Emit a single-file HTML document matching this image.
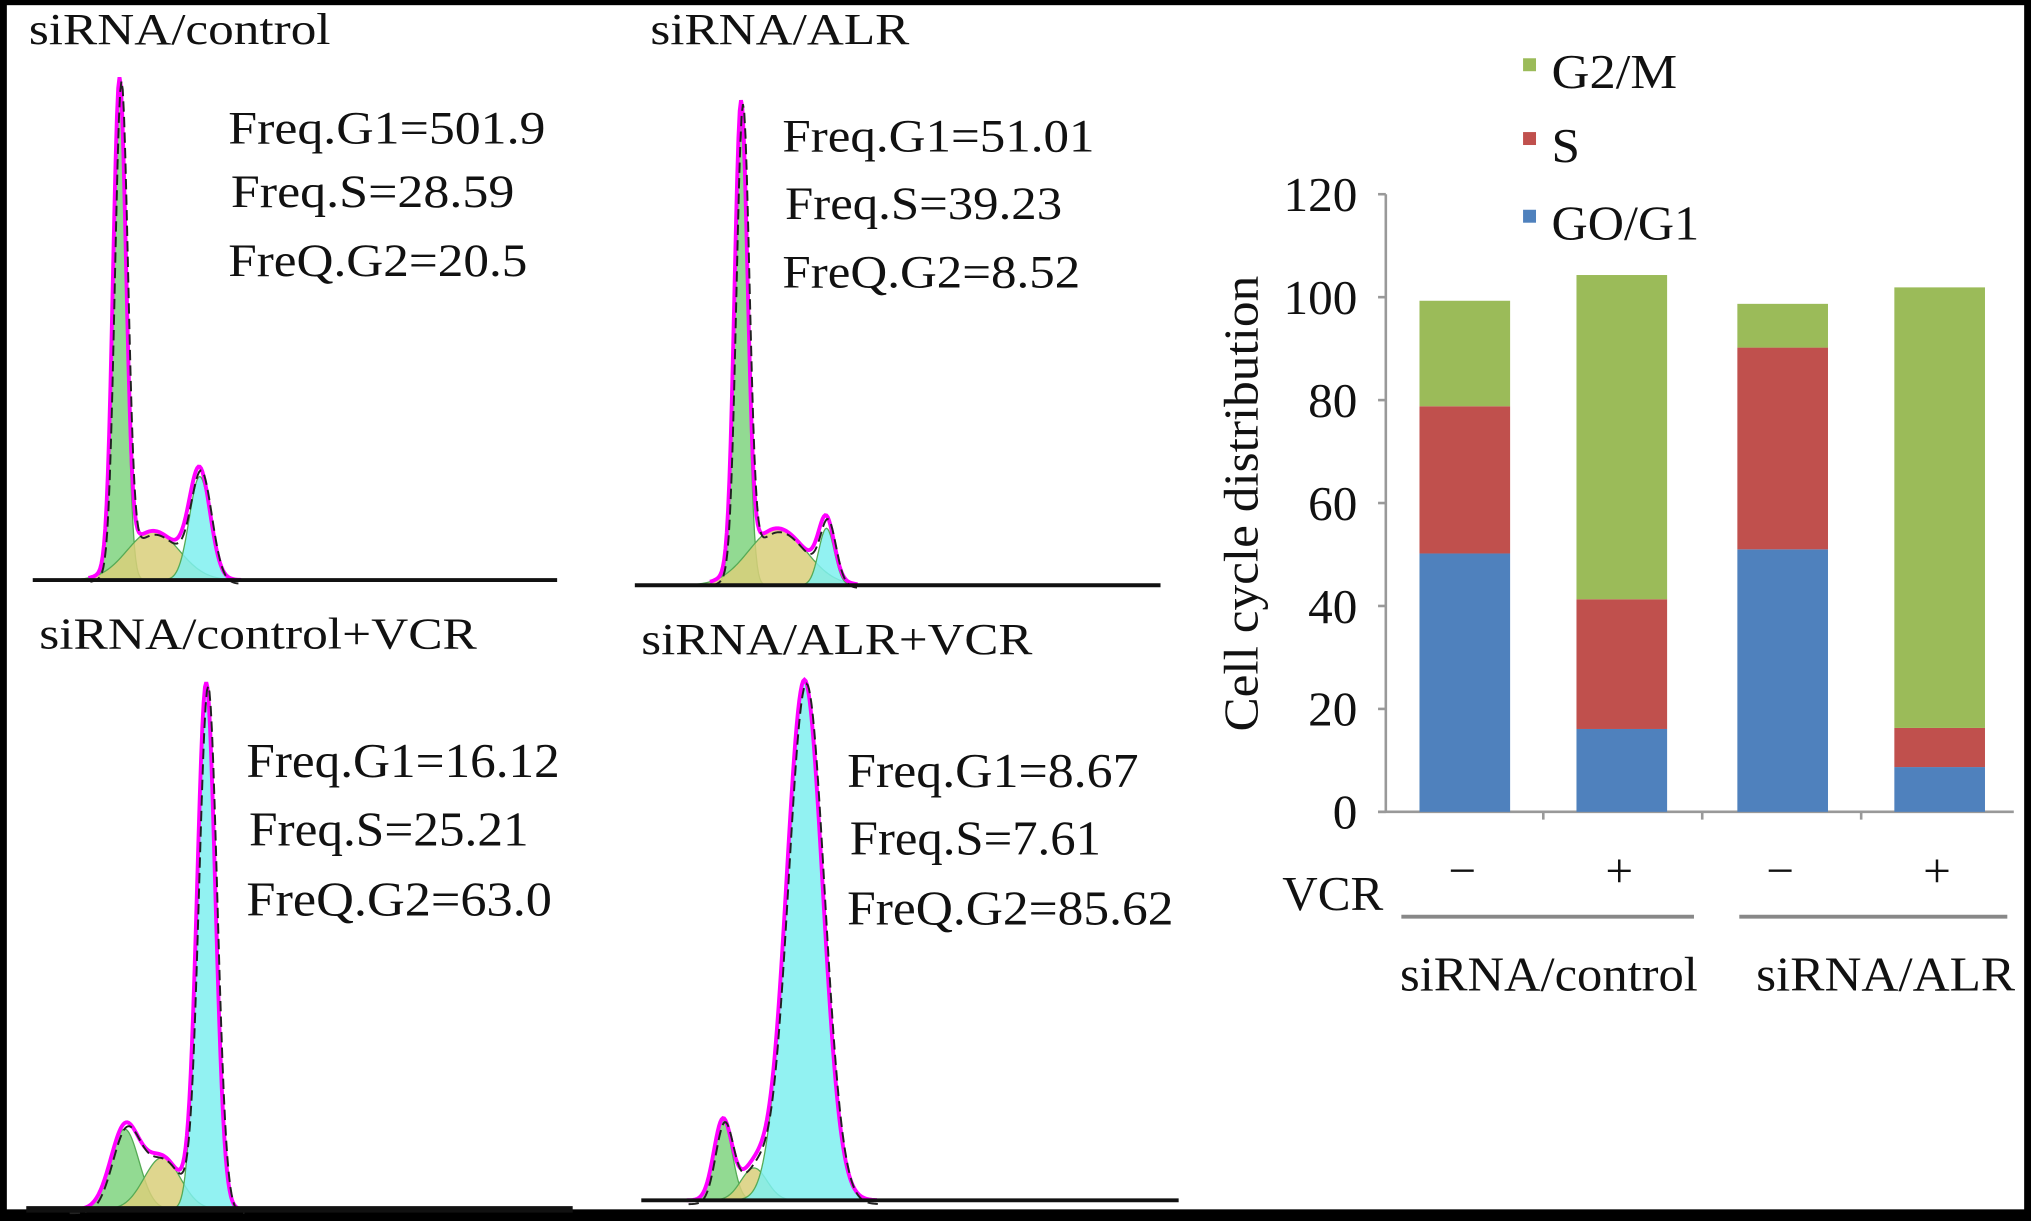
<!DOCTYPE html>
<html><head><meta charset="utf-8"><style>
html,body{margin:0;padding:0;background:#000;}
svg{display:block;}
text{font-family:"Liberation Serif","Times New Roman",serif;fill:#111;}
</style></head><body>
<svg id="fig" width="2031" height="1221" viewBox="0 0 1568 943" xmlns="http://www.w3.org/2000/svg">
<rect x="0" y="0" width="1568" height="943" fill="#000"/>
<rect x="5" y="4" width="1558" height="930" fill="#fff"/>
<g id="hists"></g>
<text x="22" y="34" font-size="34" textLength="233" lengthAdjust="spacingAndGlyphs">siRNA/control</text>
<text x="176" y="111" font-size="36" textLength="245" lengthAdjust="spacingAndGlyphs">Freq.G1=501.9</text>
<text x="178" y="160" font-size="36" textLength="219" lengthAdjust="spacingAndGlyphs">Freq.S=28.59</text>
<text x="176" y="213" font-size="36" textLength="231" lengthAdjust="spacingAndGlyphs">FreQ.G2=20.5</text>
<text x="502" y="34" font-size="34" textLength="200" lengthAdjust="spacingAndGlyphs">siRNA/ALR</text>
<text x="604" y="117" font-size="36" textLength="241" lengthAdjust="spacingAndGlyphs">Freq.G1=51.01</text>
<text x="606" y="169" font-size="36" textLength="214" lengthAdjust="spacingAndGlyphs">Freq.S=39.23</text>
<text x="604" y="222" font-size="36" textLength="230" lengthAdjust="spacingAndGlyphs">FreQ.G2=8.52</text>
<text x="30" y="501" font-size="34" textLength="338" lengthAdjust="spacingAndGlyphs">siRNA/control+VCR</text>
<text x="190" y="600" font-size="38" textLength="242" lengthAdjust="spacingAndGlyphs">Freq.G1=16.12</text>
<text x="192" y="653" font-size="38" textLength="216" lengthAdjust="spacingAndGlyphs">Freq.S=25.21</text>
<text x="190" y="707" font-size="38" textLength="236" lengthAdjust="spacingAndGlyphs">FreQ.G2=63.0</text>
<text x="495" y="505" font-size="34" textLength="302" lengthAdjust="spacingAndGlyphs">siRNA/ALR+VCR</text>
<text x="654" y="608" font-size="38" textLength="225" lengthAdjust="spacingAndGlyphs">Freq.G1=8.67</text>
<text x="656" y="660" font-size="38" textLength="194" lengthAdjust="spacingAndGlyphs">Freq.S=7.61</text>
<text x="654" y="714" font-size="38" textLength="252" lengthAdjust="spacingAndGlyphs">FreQ.G2=85.62</text>
<g id="bars"></g>
</svg>
<script>
// ---- bar chart data ----
const categories = ["siRNA/control -VCR","siRNA/control +VCR","siRNA/ALR -VCR","siRNA/ALR +VCR"];
const vcrSigns = ["−","+","−","+"];
const g1Values = [50.2, 16.1, 51.0, 8.7];
const sValues = [28.6, 25.2, 39.2, 7.6];
const g2mValues = [20.5, 63.0, 8.5, 85.6];
const yTicks = [0,20,40,60,80,100,120];
const groupLabels = ["siRNA/control","siRNA/ALR"];

const NS="http://www.w3.org/2000/svg";
function mk(tag, attrs, parent){const e=document.createElementNS(NS,tag);for(const k in attrs)e.setAttribute(k,attrs[k]);parent.appendChild(e);return e;}

const bars=document.getElementById('bars');
const x0=1070, x1=1555, yBase=627, yTop=150;
const yScale=v=>yBase-(v/120)*(yBase-yTop);
const slot=(x1-x0)/categories.length;
const xCenter=i=>x0+61+slot*i+(i>1?3:0);
const barW=70;

let ax=mk('line',{x1:x0,y1:yTop,x2:x0,y2:yBase,stroke:'#999','stroke-width':2},bars);


let bx=mk('line',{x1:x0-6,y1:yBase,x2:x1,y2:yBase,stroke:'#999','stroke-width':2},bars);


yTicks.forEach(t=>{
  const tk=mk('line',{x1:x0-6,y1:yScale(t),x2:x0,y2:yScale(t),stroke:'#999','stroke-width':2},bars);
  
  
  const tl=mk('text',{x:x0-22,y:yScale(t)+13,'font-size':38,'text-anchor':'end'},bars);
  tl.textContent=t;
  if(String(t).length===3){tl.setAttribute('textLength',57);tl.setAttribute('lengthAdjust','spacingAndGlyphs');}
  
  
});
for(let i=1;i<categories.length;i++){
  const tk=mk('line',{x1:(xCenter(i-1)+xCenter(i))/2,y1:yBase,x2:(xCenter(i-1)+xCenter(i))/2,y2:yBase+6,stroke:'#999','stroke-width':2},bars);
  
  
}
const yt=mk('text',{x:0,y:0,'font-size':38,'text-anchor':'middle',textLength:352,lengthAdjust:'spacingAndGlyphs',transform:'translate(971,389) rotate(-90)'},bars);
yt.textContent='Cell cycle distribution';



const series=[{v:g1Values,c:'#4f81bd',n:'g1'},{v:sValues,c:'#c0504d',n:'s'},{v:g2mValues,c:'#9bbb59',n:'g2m'}];
categories.forEach((c,i)=>{
  let acc=0;
  series.forEach(s=>{
    const v=s.v[i];
    const r=mk('rect',{x:xCenter(i)-barW/2,y:yScale(acc+v),width:barW,height:yScale(acc)-yScale(acc+v),fill:s.c},bars);
    
    
    acc+=v;
  });
  const sg=mk('text',{x:xCenter(i)-2,y:685,'font-size':38,'text-anchor':'middle'},bars);
  sg.textContent=vcrSigns[i];
  
  
});
const vl=mk('text',{x:990,y:703,'font-size':38,textLength:78,lengthAdjust:'spacingAndGlyphs'},bars);
vl.textContent='VCR';


const brackets=[[1082,1308,1196,230],[1343,1550,1456,200]];
groupLabels.forEach((g,k)=>{
  const b=brackets[k];
  const ln=mk('line',{x1:b[0],y1:708,x2:b[1],y2:708,stroke:'#888','stroke-width':3},bars);
  
  
  const t=mk('text',{x:b[2]-b[3]/2,y:765,'font-size':38,textLength:b[3],lengthAdjust:'spacingAndGlyphs'},bars);
  t.textContent=g;
  
  
});
[['G2/M','#9bbb59',55,97],['S','#c0504d',112,22],['GO/G1','#4f81bd',172,114]].forEach(l=>{
  const sq=mk('rect',{x:1176,y:l[2]-10,width:10,height:10,fill:l[1]},bars);
  
  
  const t=mk('text',{x:1198,y:l[2]+13,'font-size':38,textLength:l[3],lengthAdjust:'spacingAndGlyphs'},bars);
  t.textContent=l[0];
  
  
});

// ---- histograms (decorative flow cytometry curves) ----
const hists=document.getElementById('hists');
const panels=[
 {bx0:25,bx1:430,by:448,comps:[{m:92,s:5,h:372,c:'#7fd37f'},{m:118,s:20,h:38,c:'#d9cf7a'},{m:154,s:8,h:80,c:'#7ff0f0'}]},
 {bx0:490,bx1:896,by:452,comps:[{m:572,s:5,h:355,c:'#7fd37f'},{m:600,s:22,h:44,c:'#d9cf7a'},{m:638,s:6,h:44,c:'#7ff0f0'}]},
 {bx0:20,bx1:442,by:934,comps:[{m:96,s:11,h:62,c:'#7fd37f'},{m:125,s:14,h:40,c:'#d9cf7a'},{m:159,s:7,h:405,c:'#7ff0f0'}]},
 {bx0:495,bx1:910,by:927,comps:[{m:558,s:7,h:62,c:'#7fd37f'},{m:582,s:10,h:25,c:'#d9cf7a'},{m:621,s:14,h:402,c:'#7ff0f0'}]}
];
const gauss=(x,c)=>c.h*Math.exp(-0.5*((x-c.m)/c.s)**2);
panels.forEach((p,pi)=>{
  const xmin=p.comps[0].m-4*Math.max(p.comps[0].s,6), xmax=p.comps[2].m+4*p.comps[2].s;
  p.comps.forEach(c=>{
    let d=`M${c.m-3.5*c.s},${p.by}`;
    for(let x=c.m-3.5*c.s;x<=c.m+3.5*c.s;x+=1)d+=` L${x},${p.by-gauss(x,c)}`;
    d+=` L${c.m+3.5*c.s},${p.by} Z`;
    const e=mk('path',{d:d,fill:c.c,'fill-opacity':0.85,stroke:'#5a5',"stroke-width":1},hists);
    
    
  });
  let d='';
  for(let x=xmin;x<=xmax;x+=1){const y=p.by-p.comps.reduce((a,c)=>a+gauss(x,c),0);d+=(d?' L':'M')+x+','+y;}
  const tot=mk('path',{d:d,fill:'none',stroke:'#ff00ff','stroke-width':3},hists);
  
  
  const tot2=mk('path',{d:d,fill:'none',stroke:'#222','stroke-width':1.5,'stroke-dasharray':'8 4',transform:'translate(1.5,3)'},hists);
  
  
  const bl=mk('line',{x1:p.bx0,y1:p.by,x2:p.bx1,y2:p.by,stroke:'#111','stroke-width':pi==2?5:3},hists);
  
  
});
</script>
</body></html>
